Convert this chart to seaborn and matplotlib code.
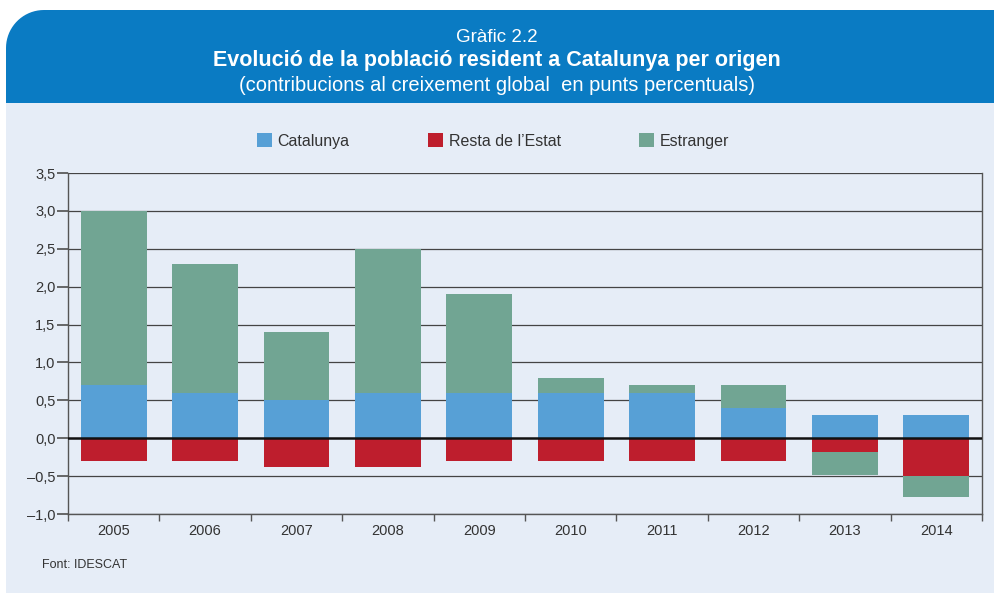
import numpy as np
import pandas as pd
import matplotlib
matplotlib.use("Agg")
import matplotlib.pyplot as plt
import seaborn as sns
from matplotlib.path import Path
from matplotlib.patches import PathPatch, Rectangle, Patch

years = ["2005", "2006", "2007", "2008", "2009", "2010", "2011", "2012", "2013", "2014"]
catalunya = [0.7, 0.6, 0.5, 0.6, 0.6, 0.6, 0.6, 0.4, 0.3, 0.3]
resta_estat = [-0.3, -0.3, -0.38, -0.38, -0.3, -0.3, -0.3, -0.3, -0.18, -0.5]
estranger = [2.3, 1.7, 0.9, 1.9, 1.3, 0.2, 0.1, 0.3, -0.3, -0.28]
series_names = ["Catalunya", "Resta de l\u2019Estat", "Estranger"]
yticks = [-1.0, -0.5, 0.0, 0.5, 1.0, 1.5, 2.0, 2.5, 3.0, 3.5]

C_CAT = "#57a0d6"
C_RES = "#be1e2d"
C_EST = "#71a593"
HEADER = "#0a7bc3"
BG = "#e6edf7"

sns.set_theme(style="white")
plt.rcParams["font.family"] = ["Liberation Sans", "DejaVu Sans"]

W, H = 994, 593
fig = plt.figure(figsize=(W / 100, H / 100), dpi=100)
fig.patch.set_facecolor("white")

def fx(x):
    return x / W

def fy(y):
    return 1 - y / H

# background panel
fig.add_artist(Rectangle((fx(6), 0), 1, fy(103), transform=fig.transFigure,
                         facecolor=BG, edgecolor="none", zorder=0))
# header band with rounded top-left corner
r = 38
x0, y0, x1, y1 = 6, 10, 1000, 103
verts = [(x0, y1)]
t = np.linspace(np.pi, np.pi / 2, 20)
for a in t:
    verts.append((x0 + r + r * np.cos(a), y0 + r - r * np.sin(a)))
verts += [(x1, y0), (x1, y1), (x0, y1)]
verts = [(fx(a), fy(b)) for a, b in verts]
fig.add_artist(PathPatch(Path(verts), transform=fig.transFigure,
                         facecolor=HEADER, edgecolor="none", zorder=1))

fig.text(0.5, fy(42), "Gràfic 2.2", ha="center", va="baseline", color="white", fontsize=13.5)
fig.text(0.5, fy(66), "Evolució de la població resident a Catalunya per origen",
         ha="center", va="baseline", color="white", fontsize=15.5, fontweight="bold")
fig.text(0.5, fy(91), "(contribucions al creixement global  en punts percentuals)",
         ha="center", va="baseline", color="white", fontsize=14.5)

ax = fig.add_axes([fx(68), fy(514), fx(982) - fx(68), fy(173) - fy(514)])
ax.set_facecolor(BG)

df = pd.DataFrame({"year": years, "cat": catalunya, "res": resta_estat, "est": estranger})
df["est_end"] = np.where(df["est"] > 0, df["cat"] + df["est"], df["res"] + df["est"])

bw = 0.72
for col, c in [("est_end", C_EST), ("cat", C_CAT), ("res", C_RES)]:
    sns.barplot(data=df, x="year", y=col, color=c, saturation=1, width=bw,
                errorbar=None, ax=ax, zorder=3, linewidth=0)

for yv in yticks:
    if yv != 0:
        ax.axhline(yv, color="#444444", lw=0.9, zorder=1)
ax.axhline(0, color="#111111", lw=1.8, zorder=4)

ax.set_xlim(-0.5, len(years) - 0.5)
ax.set_ylim(-1.0, 3.5)
ax.set_yticks(yticks)
ax.set_yticklabels([f"{v:.1f}".replace(".", ",").replace("-", "\u2013") for v in yticks])
ax.set_xlabel("")
ax.set_ylabel("")
ax.spines["top"].set_visible(False)
for s in ["left", "right", "bottom"]:
    ax.spines[s].set_visible(True)
    ax.spines[s].set_color("#555555")
    ax.spines[s].set_linewidth(1.0)
ax.tick_params(axis="y", which="major", length=8, direction="out", color="#555555",
               labelsize=10.5, labelcolor="#333333", pad=1, left=True)
ax.tick_params(axis="x", which="major", length=0, labelsize=10.5, labelcolor="#333333", pad=7)
ax.set_xticks(np.arange(-0.5, len(years), 1), minor=True)
ax.tick_params(axis="x", which="minor", length=5, direction="out", color="#555555", bottom=True)

handles = [Patch(facecolor=C_CAT, edgecolor="none"), Patch(facecolor=C_RES, edgecolor="none"),
           Patch(facecolor=C_EST, edgecolor="none")]
fig.legend(handles, series_names, loc="center", bbox_to_anchor=(fx(493), fy(141)),
           ncol=3, frameon=False, fontsize=11.5, handlelength=0.95, handleheight=0.95,
           handletextpad=0.35, columnspacing=4.9, labelcolor="#333333")

fig.text(fx(42), fy(565), "Font: IDESCAT", ha="left", va="center", fontsize=9,
         color="#333333")

fig.savefig("out.png", dpi=100, facecolor=fig.get_facecolor())
